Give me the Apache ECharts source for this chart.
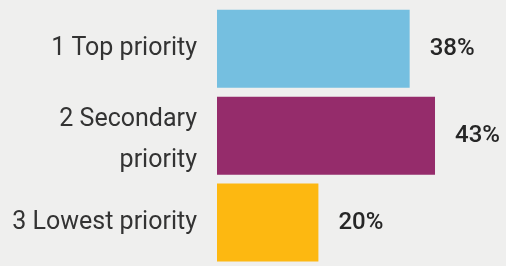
<!DOCTYPE html>
<html><head><meta charset="utf-8">
<script src="https://cdn.jsdelivr.net/npm/echarts@6/dist/echarts.min.js"></script>
<style>html,body{margin:0;padding:0;background:#efefee;}#c{width:506px;height:266px;}</style>
</head><body><div id="c"></div>
<script>
const categories = ['1 Top priority', '2 Secondary\npriority', '3 Lowest priority'];
const values = [38, 43, 20];
const colors = ['#75bfe0', '#952c6b', '#fdb811'];

const chart = echarts.init(document.getElementById('c'));
const labelFont = { fontFamily: 'Roboto', fontSize: 25, color: '#333333' };
chart.setOption({
  backgroundColor: '#efefee',
  animation: false,
  grid: { left: 217, right: 35.5, top: 5.4, bottom: -3, containLabel: false },
  xAxis: { type: 'value', min: 0, max: 50, show: false },
  yAxis: {
    type: 'category', data: categories, inverse: true,
    axisLine: { show: false }, axisTick: { show: false },
    axisLabel: {
      margin: 20, ...labelFont, lineHeight: 41, align: 'right',
      formatter: (v) => {
        const lines = v.split('\n');
        if (lines.length === 1) return '{n|' + v + '}';
        return '{f|' + lines[0] + '}\n' + lines.slice(1).map(l => '{s|' + l + '}').join('\n');
      },
      rich: {
        n: { ...labelFont, lineHeight: 41 },
        f: { ...labelFont, lineHeight: 41, padding: [9, 0, 0, 0] },
        s: { ...labelFont, lineHeight: 41, padding: [9, 0, 0, 0] }
      }
    }
  },
  series: [{
    type: 'bar', barWidth: 78,
    data: values.map((v, i) => ({ value: v, itemStyle: { color: colors[i] } })),
    label: { show: true, position: 'right', distance: 20, formatter: '{c}%', fontFamily: 'Roboto', fontSize: 24, fontWeight: 500, color: '#262626' }
  }]
});
</script></body></html>
